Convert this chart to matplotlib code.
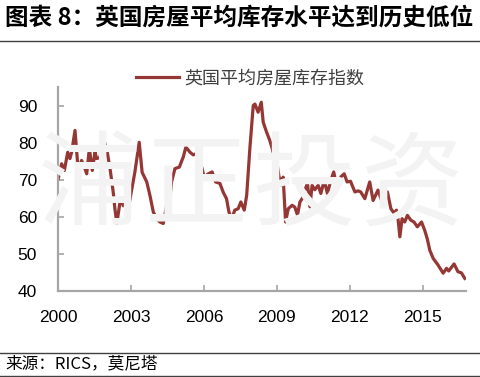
# -*- coding: utf-8 -*-
import numpy as np
import matplotlib
matplotlib.use('Agg')
import matplotlib.pyplot as plt
from matplotlib.lines import Line2D

plt.rcParams['font.family'] = ['Noto Sans CJK SC', 'DejaVu Sans']
###############################################################################
## data (decimal year, index)
years = [2000.01, 2000.15, 2000.26, 2000.40, 2000.49, 2000.56, 2000.70, 2000.83,
         2000.97, 2001.08, 2001.18, 2001.29, 2001.41, 2001.52, 2001.59, 2001.73,
         2001.84, 2002.00, 2002.14, 2002.27, 2002.34, 2002.42, 2002.55, 2002.62,
         2002.68, 2002.78, 2002.89, 2003.00, 2003.16, 2003.34, 2003.46, 2003.65,
         2003.78, 2003.92, 2004.06, 2004.19, 2004.33, 2004.47, 2004.60, 2004.67,
         2004.81, 2004.99, 2005.15, 2005.26, 2005.43, 2005.56, 2005.67, 2005.77,
         2005.91, 2006.01, 2006.18, 2006.34, 2006.48, 2006.66, 2006.79, 2006.93,
         2007.03, 2007.14, 2007.27, 2007.41, 2007.52, 2007.66, 2007.76, 2007.89,
         2008.03, 2008.10, 2008.23, 2008.36, 2008.44, 2008.58, 2008.71, 2008.81,
         2008.89, 2008.99, 2009.08, 2009.17, 2009.26, 2009.36, 2009.47, 2009.63,
         2009.74, 2009.85, 2009.95, 2010.04, 2010.15, 2010.26, 2010.36, 2010.45,
         2010.56, 2010.70, 2010.81, 2010.95, 2011.08, 2011.22, 2011.34, 2011.48,
         2011.62, 2011.77, 2011.89, 2012.03, 2012.21, 2012.34, 2012.45, 2012.62,
         2012.82, 2012.96, 2013.16, 2013.33, 2013.44, 2013.55, 2013.69, 2013.82,
         2013.92, 2013.99, 2014.06, 2014.15, 2014.26, 2014.37, 2014.51, 2014.64,
         2014.78, 2014.95, 2015.08, 2015.19, 2015.29, 2015.43, 2015.63, 2015.84,
         2015.98, 2016.07, 2016.29, 2016.45, 2016.59, 2016.73]
stock = [70.3, 74.3, 72.5, 77.4, 75.7, 77.4, 83.3, 72.5,
         75.2, 73.5, 71.6, 78.4, 72.5, 77.4, 75.7, 76.0,
         81.5, 78.4, 73.0, 66.7, 62.2, 58.2, 64.0, 65.0,
         63.0, 64.0, 62.2, 66.2, 72.0, 80.1, 72.0, 69.4,
         65.8, 61.3, 59.5, 58.6, 58.2, 63.1, 64.9, 69.4,
         73.0, 73.4, 76.1, 78.8, 77.4, 76.7, 77.0, 75.2,
         73.4, 70.7, 71.6, 72.1, 69.4, 69.0, 66.7, 64.9,
         61.3, 59.4, 61.8, 62.2, 64.0, 61.8, 65.8, 78.4,
         90.0, 90.4, 88.2, 90.9, 85.5, 82.8, 80.6, 78.4,
         76.1, 75.2, 71.2, 68.5, 70.7, 58.6, 62.2, 63.1,
         62.6, 60.5, 64.0, 64.9, 67.2, 69.0, 62.7, 68.5,
         67.3, 68.5, 66.3, 69.8, 66.3, 69.8, 72.1, 67.6,
         70.7, 71.6, 69.4, 69.6, 66.7, 67.0, 66.7, 64.9,
         69.4, 64.4, 67.2, 64.0, 64.0, 66.7, 62.2, 61.0,
         61.8, 59.1, 54.6, 59.5, 58.6, 60.4, 59.1, 58.6,
         57.3, 58.6, 56.4, 54.0, 51.0, 48.8, 47.0, 44.8,
         46.1, 45.4, 47.3, 45.2, 44.9, 43.4]
xticks = [2000, 2003, 2006, 2009, 2012, 2015]
yticks = [40, 50, 60, 70, 80, 90]
###############################################################################
W, H = 481, 377
fig = plt.figure(figsize=(W/100.0, H/100.0), dpi=100)
ax = fig.add_axes([58.0/W, 1-291.0/H, 408.0/W, 204.0/H])

## watermark
for cx, ch in zip([88, 196, 304, 412], u'浦正投资'):
    fig.text(cx/float(W), 1-188.0/H, ch, fontsize=74, color='#f3f3f3',
             fontweight='light', ha='center', va='center', zorder=0)
ax.patch.set_alpha(0)

linecol = '#953735'
axcol = '#a6a6a6'
ax.plot(years, stock, color=linecol, lw=2.3, label=u'英国平均房屋库存指数',
        solid_joinstyle='round')
ax.set_xlim(2000, 2016.78)
ax.set_ylim(40, 95)
ax.set_xticks(xticks)
ax.set_yticks(yticks)
ax.set_xticklabels([str(t) for t in xticks])
ax.set_yticklabels([str(t) for t in yticks])
for sp in ['top', 'right']:
    ax.spines[sp].set_visible(False)
for sp in ['left', 'bottom']:
    ax.spines[sp].set_color(axcol)
    ax.spines[sp].set_linewidth(1.6)
ax.tick_params(direction='in', length=4, width=1.2, color=axcol, labelsize=12.5)
ax.tick_params(axis='y', pad=15)
ax.tick_params(axis='x', pad=14)
for lab in ax.get_xticklabels() + ax.get_yticklabels():
    lab.set_family(['Liberation Sans', 'DejaVu Sans'])

leg = ax.legend(loc='center', bbox_to_anchor=(250.0/W, 1-78.5/H),
                bbox_transform=fig.transFigure, frameon=False, fontsize=13,
                handlelength=2.4, handletextpad=0.3)
for t in leg.get_texts():
    t.set_color('#404040')

## title, rules and source
fig.text(5.0/W, 1-18.0/H, u'图表 8：英国房屋平均库存水平达到历史低位', fontsize=17,
         fontweight='bold', ha='left', va='center', color='black')
for yy in [41, 353, 375.5]:
    fig.add_artist(Line2D([0, 1], [1-yy/H, 1-yy/H], transform=fig.transFigure,
                          color='#404040', lw=1.0))
fig.text(5.0/W, 1-364.0/H, u'来源：RICS，莫尼塔', fontsize=12, ha='left',
         va='center', color='black')

fig.savefig('out.png', dpi=100)
